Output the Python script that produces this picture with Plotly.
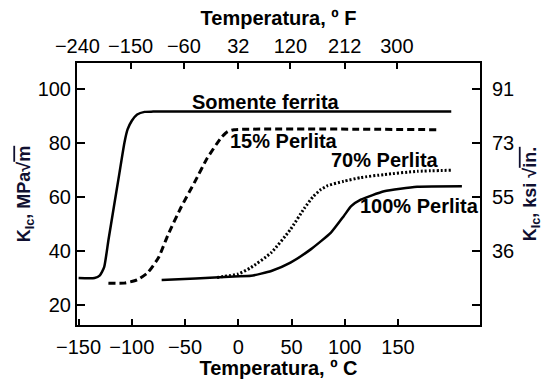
import plotly.graph_objects as go

# Data (temperature in °C, K_Ic in MPa·m^0.5)
ferrite_T = [-150, -135, -130, -126, -122, -117, -112, -107, -104, -100, -95, -88, -80, 200]
ferrite_K = [30, 30, 31, 34, 44, 56, 68, 80, 85, 88.2, 90.5, 91.5, 91.6, 91.6]

p15_T = [-122, -107, -95, -85, -75, -66, -54, -41, -29, -16, -10, -4, 188]
p15_K = [28.1, 28.1, 29.3, 32, 37.5, 46, 56, 65.5, 74.5, 82, 84.2, 84.9, 84.9]

p70_T = [-20, 0, 12, 31, 49, 62, 70, 77, 84, 99, 115, 137, 168, 201]
p70_K = [30.2, 31.5, 33.9, 39.4, 48, 55.8, 60.0, 62.6, 64.2, 65.8, 67.2, 68.3, 69.5, 69.9]

p100_T = [-72, -40, -4, 12, 31, 49, 68, 87, 99, 106, 115, 137, 168, 210]
p100_K = [29.3, 29.8, 30.6, 30.8, 32.6, 35.7, 40.6, 46.8, 52.9, 56.6, 59.0, 62.1, 63.8, 64.0]

bottom_ticks = [-150, -100, -50, 0, 50, 100, 150]
top_ticks_F = [-240, -150, -60, 32, 120, 212, 300]
left_ticks = [20, 40, 60, 80, 100]
right_ticks_pos = [100, 80, 60, 40, 20]
right_ticks_text = ["91", "73", "55", "36", ""]

labels = ["Somente ferrita", "15% Perlita", "70% Perlita", "100% Perlita"]
label_T = [26, 43, 138, 170]
label_K = [95, 80.6, 73.8, 56.6]

FONT = "Liberation Sans, Arial, sans-serif"
XR = [-151.5, 227]
YR = [12.6, 109.6]


def fmt(v):
    return ("\u2212%d" % -v) if v < 0 else str(v)


fig = go.Figure()
fig.add_trace(go.Scatter(x=ferrite_T, y=ferrite_K, mode="lines",
                         line=dict(color="black", width=2.5, shape="spline", smoothing=0.5)))
fig.add_trace(go.Scatter(x=p15_T, y=p15_K, mode="lines",
                         line=dict(color="black", width=3, dash="7px,4px", shape="spline", smoothing=0.5)))
fig.add_trace(go.Scatter(x=p100_T, y=p100_K, mode="lines",
                         line=dict(color="black", width=2.5, shape="spline", smoothing=0.5)))
fig.add_trace(go.Scatter(x=p70_T, y=p70_K, mode="lines",
                         line=dict(color="black", width=3, dash="2px,2px", shape="spline", smoothing=0.5)))
fig.add_trace(go.Scatter(x=[None], y=[None], xaxis="x2", yaxis="y2", showlegend=False))

for txt, tx, ky in zip(labels, label_T, label_K):
    fig.add_annotation(x=tx, y=ky, text="<b>%s</b>" % txt, showarrow=False,
                       font=dict(family=FONT, size=20, color="black"))

axis_common = dict(ticks="inside", tickwidth=1.5, tickcolor="black",
                   showline=True, linewidth=2, linecolor="black", automargin=False,
                   showgrid=False, zeroline=False, tickfont=dict(size=20))

fig.update_layout(
    width=548, height=379,
    margin=dict(l=77, r=68, t=63, b=54),
    paper_bgcolor="white", plot_bgcolor="white",
    showlegend=False,
    font=dict(family=FONT, size=20, color="black"),
    xaxis=dict(range=XR, tickvals=bottom_ticks, ticktext=[fmt(v) for v in bottom_ticks],
               ticklen=6, ticklabelstandoff=3,
               title=dict(text="<b>Temperatura, º C</b>", font=dict(size=20), standoff=4),
               **axis_common),
    xaxis2=dict(range=XR, overlaying="x", side="top", anchor="y",
                tickvals=[(f - 32) * 5 / 9 for f in top_ticks_F],
                ticktext=[fmt(v) for v in top_ticks_F],
                ticklen=6,
                title=dict(text="<b>Temperatura, º F</b>", font=dict(size=20), standoff=4),
                **axis_common),
    yaxis=dict(range=YR, tickvals=left_ticks, ticklen=8,
               title=dict(text="<b>K<sub>Ic</sub>, MPa√<span style='text-decoration:overline'>m</span></b>",
                          font=dict(size=18, color="#101030"), standoff=2),
               **axis_common),
    yaxis2=dict(range=YR, overlaying="y", side="right", anchor="x",
                tickvals=right_ticks_pos, ticktext=right_ticks_text, ticklen=8,
                ticklabelstandoff=6,
                title=dict(text="<b>K<sub>Ic</sub>, ksi √<span style='text-decoration:overline'>in.</span></b>",
                           font=dict(size=18, color="#101030"), standoff=10),
                **axis_common),
)

fig.write_html("out.html")
